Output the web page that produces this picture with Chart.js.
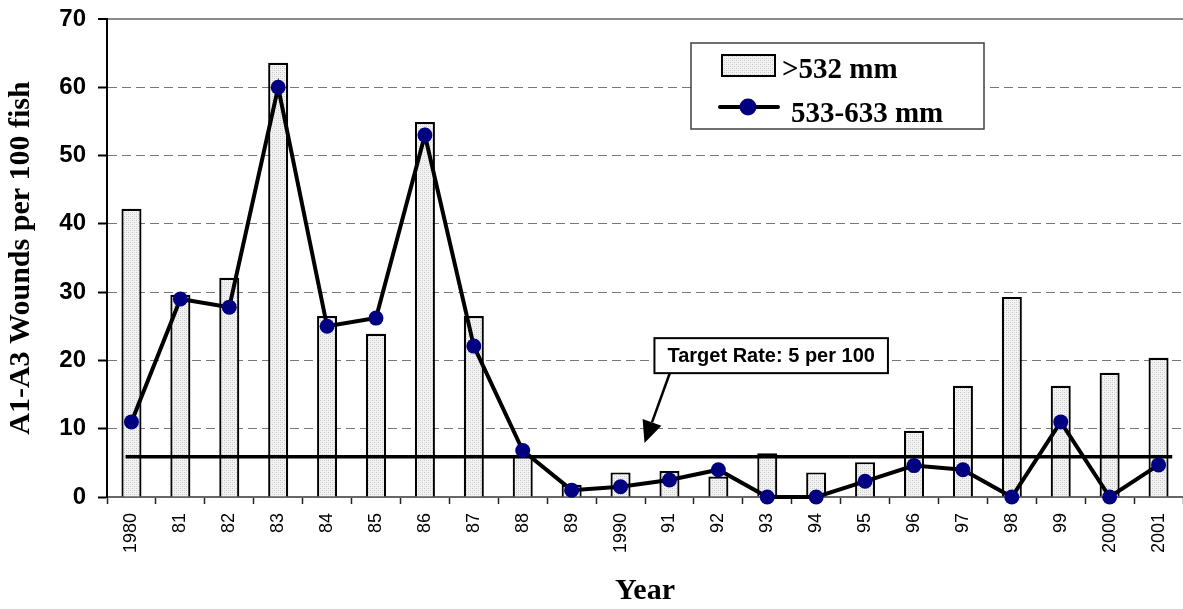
<!DOCTYPE html>
<html>
<head>
<meta charset="utf-8">
<script src="https://cdn.jsdelivr.net/npm/chart.js@4/dist/chart.umd.min.js"></script>
<style>
  html, body { margin: 0; padding: 0; background: #fff; overflow: hidden; }
  #wrap { width: 1183px; height: 609px; position: relative; }
</style>
</head>
<body>
<div id="wrap"><canvas id="c"></canvas></div>
<script>
// ---- data ----
const years = ['1980','81','82','83','84','85','86','87','88','89','1990','91','92','93','94','95','96','97','98','99','2000','2001'];
const over532 = [42.2, 29.6, 32.1, 63.6, 26.5, 23.9, 54.9, 26.5, 6.2, 1.8, 3.6, 3.8, 3.0, 6.4, 3.6, 5.1, 9.7, 16.3, 29.3, 16.3, 18.2, 20.4];
const mm533to633 = [11.0, 29.0, 27.8, 60.0, 25.0, 26.2, 53.0, 22.1, 6.8, 1.0, 1.5, 2.5, 4.0, 0, 0, 2.3, 4.6, 4.0, 0, 11.0, 0, 4.7];
const yTicks = [0, 10, 20, 30, 40, 50, 60, 70];
const targetLineValue = [5.9];
const seriesNames = ['>532 mm', '533-633 mm'];
const targetLabel = 'Target Rate: 5 per 100';

function makePattern() {
  const c = document.createElement('canvas');
  c.width = 4; c.height = 4;
  const g = c.getContext('2d');
  g.fillStyle = '#f3f3f3'; g.fillRect(0, 0, 4, 4);
  g.fillStyle = '#c6c6c6';
  g.fillRect(0, 0, 1, 1); g.fillRect(2, 2, 1, 1);
  g.fillStyle = '#dcdcdc';
  g.fillRect(2, 0, 1, 1); g.fillRect(0, 2, 1, 1);
  return g.createPattern(c, 'repeat');
}
const barFill = makePattern();

const targetPlugin = {
  id: 'targetLine',
  beforeDatasetDraw(chart, args) {
    if (args.index !== 1) return;
    const xs = chart.scales.x, ys = chart.scales.y, ctx = chart.ctx;
    const y = ys.getPixelForValue(targetLineValue[0]);
    ctx.save();
    ctx.strokeStyle = '#000'; ctx.lineWidth = 3.5;
    ctx.beginPath();
    ctx.moveTo(xs.getPixelForValue(-0.12), y);
    ctx.lineTo(xs.getPixelForValue(years.length - 1 + 0.28), y);
    ctx.stroke();
    ctx.restore();
  }
};

const annotPlugin = {
  id: 'annot',
  afterDatasetsDraw(chart) {
    const xs = chart.scales.x, ys = chart.scales.y, ctx = chart.ctx;
    ctx.save();
    // arrow
    const x0 = xs.getPixelForValue(11.01), y0 = ys.getPixelForValue(18.2);
    const x1 = xs.getPixelForValue(10.49), y1 = ys.getPixelForValue(7.9);
    const ang = Math.atan2(y1 - y0, x1 - x0);
    const hl = 22, hw = 10;
    const bx = x1 - hl * Math.cos(ang), by = y1 - hl * Math.sin(ang);
    ctx.strokeStyle = '#000'; ctx.lineWidth = 2.5;
    ctx.beginPath(); ctx.moveTo(x0, y0); ctx.lineTo(bx, by); ctx.stroke();
    ctx.fillStyle = '#000';
    ctx.beginPath();
    ctx.moveTo(x1, y1);
    ctx.lineTo(bx + hw * Math.sin(ang), by - hw * Math.cos(ang));
    ctx.lineTo(bx - hw * Math.sin(ang), by + hw * Math.cos(ang));
    ctx.closePath(); ctx.fill();
    // box
    ctx.font = 'bold 20px "Liberation Sans", Arial, sans-serif';
    const tw = ctx.measureText(targetLabel).width;
    const cx = xs.getPixelForValue(13.08), cy = ys.getPixelForValue(20.7);
    const w = tw + 26, h = 35;
    ctx.fillStyle = '#fff';
    ctx.fillRect(cx - w / 2, cy - h / 2, w, h);
    ctx.strokeStyle = '#000'; ctx.lineWidth = 2;
    ctx.strokeRect(cx - w / 2, cy - h / 2, w, h);
    ctx.fillStyle = '#000'; ctx.textAlign = 'center'; ctx.textBaseline = 'middle';
    ctx.fillText(targetLabel, cx, cy + 1);
    ctx.restore();
  }
};

const legendPlugin = {
  id: 'boxLegend',
  afterDraw(chart) {
    const ctx = chart.ctx, a = chart.chartArea;
    const L = a.left + 584, T = a.top + 24, W = 293, H = 86;
    ctx.save();
    ctx.fillStyle = '#fff'; ctx.fillRect(L, T, W, H);
    ctx.strokeStyle = '#404040'; ctx.lineWidth = 1.5; ctx.strokeRect(L, T, W, H);
    // bar swatch
    ctx.fillStyle = barFill; ctx.fillRect(L + 31, T + 12, 53, 21);
    ctx.strokeStyle = '#000'; ctx.lineWidth = 2; ctx.strokeRect(L + 31, T + 12, 53, 21);
    ctx.font = 'bold 29px "Liberation Serif", "Times New Roman", serif';
    ctx.fillStyle = '#000'; ctx.textAlign = 'left'; ctx.textBaseline = 'alphabetic';
    ctx.fillText(seriesNames[0], L + 91, T + 35);
    // line swatch
    const ly = T + 64;
    ctx.strokeStyle = '#000'; ctx.lineWidth = 4; ctx.lineCap = 'round';
    ctx.beginPath(); ctx.moveTo(L + 29, ly); ctx.lineTo(L + 87, ly); ctx.stroke();
    ctx.fillStyle = '#000080';
    ctx.beginPath(); ctx.arc(L + 57, ly, 8.5, 0, Math.PI * 2); ctx.fill();
    ctx.fillStyle = '#000';
    ctx.fillText(seriesNames[1], L + 100, T + 79);
    ctx.restore();
  }
};

new Chart(document.getElementById('c'), {
  data: {
    labels: years,
    datasets: [
      {
        type: 'bar', label: seriesNames[0], data: over532,
        backgroundColor: barFill, borderColor: '#000', borderWidth: 2.2,
        barPercentage: 0.41, categoryPercentage: 1.0, order: 1
      },
      {
        type: 'line', label: seriesNames[1], data: mm533to633,
        borderColor: '#000', borderWidth: 4, tension: 0, clip: false,
        pointRadius: 7.5, pointHoverRadius: 7.5,
        pointBackgroundColor: '#000080', pointBorderColor: '#000080', pointBorderWidth: 0,
        order: 0
      }
    ]
  },
  options: {
    responsive: true, maintainAspectRatio: false, animation: false,
    layout: { autoPadding: false, padding: { top: 19, right: 0, bottom: 0, left: 0 } },
    plugins: { legend: { display: false }, tooltip: { enabled: false } },
    scales: {
      x: {
        type: 'category', offset: true,
        grid: { offset: true, drawOnChartArea: false, tickLength: 7, tickColor: '#222', tickWidth: 1.5 },
        border: { color: '#666', width: 2 },
        ticks: {
          minRotation: 90, maxRotation: 90, autoSkip: false, padding: 9, color: '#000',
          font: { family: '"Liberation Sans", Arial, sans-serif', size: 18 }
        },
        title: {
          display: true, text: 'Year', color: '#000',
          font: { family: '"Liberation Serif", "Times New Roman", serif', size: 30, weight: 'bold' },
          padding: { top: 0, bottom: 0 }
        },
        afterFit(s) { s.height = 112; s.paddingLeft = 0; s.paddingRight = 0; }
      },
      y: {
        min: yTicks[0], max: yTicks[yTicks.length - 1],
        afterBuildTicks(s) { s.ticks = yTicks.map(v => ({ value: v })); },
        grid: {
          color: c => (c.tick && c.tick.value === 70) ? '#8a8a8a' : '#777',
          lineWidth: c => (c.tick && c.tick.value === 70) ? 2 : 1,
          tickLength: 9, tickColor: '#000', tickWidth: 2
        },
        border: {
          color: '#000', width: 2,
          dash: c => (c.tick && c.tick.value === 70) ? [] : [9, 5]
        },
        ticks: {
          padding: 12, color: '#000',
          font: { family: '"Liberation Sans", Arial, sans-serif', size: 24, weight: 'bold' }
        },
        title: {
          display: true, text: 'A1-A3 Wounds per 100 fish', color: '#000',
          font: { family: '"Liberation Serif", "Times New Roman", serif', size: 30, weight: 'bold' },
          padding: { top: 3, bottom: 0 }
        },
        afterFit(s) { s.width = 107; s.paddingTop = 0; s.paddingBottom = 0; }
      }
    }
  },
  plugins: [targetPlugin, annotPlugin, legendPlugin]
});
</script>
</body>
</html>
